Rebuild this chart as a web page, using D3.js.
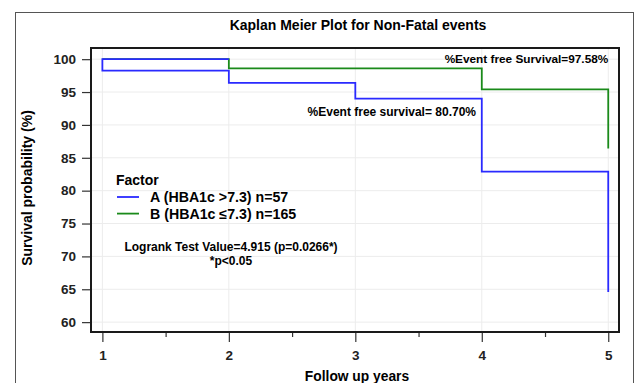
<!DOCTYPE html>
<html lang="en">
<head>
  <meta charset="UTF-8">
  <title>Kaplan Meier Plot</title>
  <style>
    body { margin: 0; background: #fff; }
    svg { display: block; font-family: 'Liberation Sans', Arial, sans-serif; font-weight: bold; }
    .grid line { stroke: #ececec; stroke-width: 1; }
    .axis path { display: none; }
    .axis line { stroke: #333; stroke-width: 1.2; }
    .axis text { fill: #222; font-size: 13.5px; font-weight: bold; }
    .km { fill: none; stroke-width: 1.8; }
  </style>
  <script src="https://cdn.jsdelivr.net/npm/d3@7"></script>
</head>
<body>
<svg width="638" height="383"></svg>
<script>
  // data
  const yTicks = [60, 65, 70, 75, 80, 85, 90, 95, 100];
  const xTicks = [1, 2, 3, 4, 5];
  const xMinor = [1.5, 2.5, 3.5, 4.5];
  // step curves as [year, survival %] vertices
  const groupA = [[2, 100], [1, 100], [1, 98.25], [2, 98.25], [2, 96.4], [3, 96.4], [3, 94.0], [4, 94.0], [4, 82.9], [5, 82.9], [5, 64.6]];
  const groupB = [[1, 100], [2, 100], [2, 98.6], [4, 98.6], [4, 95.4], [5, 95.4], [5, 86.4]];
  const legendLabels = ["A (HBA1c >7.3) n=57", "B (HBA1c \u22647.3) n=165"];
  const colors = ["#2a2aff", "#1a8a1a"];

  const svg = d3.select("svg");
  const pLeft = 91, pRight = 619, pTop = 48, pBottom = 332;

  const x = d3.scaleLinear().domain([0.91, 5.085]).range([pLeft, pRight]);
  const y = d3.scaleLinear().domain([58.5, 101.7]).range([pBottom, pTop]);

  // outer frame
  svg.append("rect")
    .attr("x", 15.5).attr("y", 12.5)
    .attr("width", 618).attr("height", 400)
    .attr("fill", "none").attr("stroke", "#555").attr("stroke-width", 1);

  // grid
  const grid = svg.append("g").attr("class", "grid");
  grid.selectAll(".h").data(yTicks).enter().append("line")
    .attr("x1", pLeft).attr("x2", pRight)
    .attr("y1", d => y(d)).attr("y2", d => y(d));
  grid.selectAll(".v").data(xTicks).enter().append("line")
    .attr("y1", pTop).attr("y2", pBottom)
    .attr("x1", d => x(d)).attr("x2", d => x(d));

  // axes
  svg.append("g").attr("class", "axis")
    .attr("transform", `translate(${pLeft},0)`)
    .call(d3.axisLeft(y).tickValues(yTicks).tickSize(9).tickPadding(6));

  svg.append("g").attr("class", "axis minor")
    .attr("transform", `translate(0,${pBottom})`)
    .call(d3.axisBottom(x).tickValues(xMinor).tickSize(5).tickFormat(""))
    .selectAll("line").attr("stroke", "#888");

  svg.append("g").attr("class", "axis")
    .attr("transform", `translate(0,${pBottom})`)
    .call(d3.axisBottom(x).tickValues(xTicks).tickSize(10).tickPadding(8).tickFormat(d3.format("d")));

  // curves
  const line = d3.line().x(d => x(d[0])).y(d => y(d[1]));
  svg.append("path").datum(groupB).attr("class", "km").attr("stroke", colors[1]).attr("d", line);
  svg.append("path").datum(groupA).attr("class", "km").attr("stroke", colors[0]).attr("d", line);

  // plot box
  svg.append("rect")
    .attr("x", pLeft).attr("y", pTop)
    .attr("width", pRight - pLeft).attr("height", pBottom - pTop)
    .attr("fill", "none").attr("stroke", "#1a1a1a").attr("stroke-width", 2);

  // titles
  svg.append("text")
    .attr("x", 358).attr("y", 30)
    .attr("text-anchor", "middle").attr("font-size", 14)
    .text("Kaplan Meier Plot for Non-Fatal events");

  svg.append("text")
    .attr("transform", "translate(32,188) rotate(-90)")
    .attr("text-anchor", "middle").attr("font-size", 14)
    .text("Survival probability (%)");

  svg.append("text")
    .attr("x", 357).attr("y", 381)
    .attr("text-anchor", "middle").attr("font-size", 13.8)
    .text("Follow up years");

  // annotations
  svg.append("text")
    .attr("x", x(5)).attr("y", 63)
    .attr("text-anchor", "end").attr("font-size", 11.8)
    .text("%Event free Survival=97.58%");

  svg.append("text")
    .attr("x", 476).attr("y", 116)
    .attr("text-anchor", "end").attr("font-size", 12)
    .text("%Event free survival= 80.70%");

  svg.append("text")
    .attr("x", 231).attr("y", 251)
    .attr("text-anchor", "middle").attr("font-size", 12)
    .text("Logrank Test Value=4.915 (p=0.0266*)");

  svg.append("text")
    .attr("x", 231).attr("y", 265)
    .attr("text-anchor", "middle").attr("font-size", 12)
    .text("*p<0.05");

  // legend
  const legend = svg.append("g").attr("transform", "translate(116,0)");
  legend.append("text").attr("x", 0).attr("y", 185).attr("font-size", 14).text("Factor");
  legendLabels.forEach((lab, i) => {
    const ly = 197 + i * 16.6;
    legend.append("line").attr("x1", 1).attr("x2", 23).attr("y1", ly).attr("y2", ly)
      .attr("stroke", colors[i]).attr("stroke-width", 1.8);
    legend.append("text").attr("x", 34).attr("y", ly + 5).attr("font-size", 14.2).text(lab);
  });
</script>
</body>
</html>
